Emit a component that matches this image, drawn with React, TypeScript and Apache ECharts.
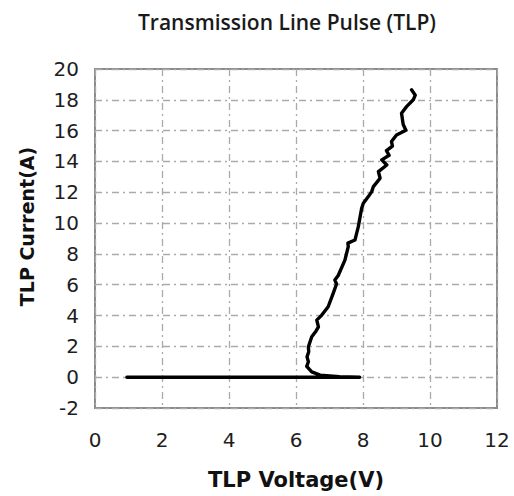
import React, { useEffect, useRef } from "react";
import * as echarts from "echarts";

// TLP I-V curve: [voltage (V), current (A)]
const voltage: number[] = [
  0.95, 7.9, 7.3, 6.72, 6.47, 6.32, 6.37, 6.33, 6.38, 6.37, 6.47, 6.6, 6.67, 6.62, 6.77,
  6.96, 7.11, 7.21, 7.16, 7.26, 7.46, 7.56, 7.55, 7.76, 7.86, 7.96, 8.01, 8.16, 8.26,
  8.31, 8.43, 8.51, 8.46, 8.71, 8.56, 8.78, 8.7, 8.88, 8.85, 9.0, 9.28, 9.2, 9.15, 9.3,
  9.5, 9.56, 9.45,
];
const current: number[] = [
  0, 0, 0.03, 0.13, 0.34, 0.7, 1.0, 1.32, 1.65, 1.97, 2.62, 3.0, 3.27, 3.7, 4.03,
  4.57, 5.44, 6.05, 6.3, 6.6, 7.6, 8.47, 8.7, 8.9, 9.77, 10.96, 11.29, 11.72, 12.04,
  12.37, 12.69, 12.91, 13.34, 13.77, 14.1, 14.4, 14.7, 15.0, 15.29, 15.72, 16.02, 16.4, 17.13, 17.56,
  18.0, 18.3, 18.65,
];

const titleText = "Transmission Line Pulse (TLP)";
const xName = "TLP Voltage(V)";
const yName = "TLP Current(A)";
const xRange = { min: 0, max: 12, interval: 2 };
const yRange = { min: -2, max: 20, interval: 2 };

export default function App() {
  const ref = useRef<HTMLDivElement>(null);
  useEffect(() => {
    if (!ref.current) return;
    const chart = echarts.init(ref.current, null, { renderer: "svg" });
    const gridLine = {
      show: true,
      lineStyle: { color: "#aaaaaa", width: 1.3, type: [7, 4, 2, 4] as any },
    };
    const labelStyle = {
      fontFamily: "DejaVu Sans",
      fontSize: 20,
      color: "#1e1e1e",
    };
    chart.setOption({
      animation: false,
      backgroundColor: "#ffffff",
      title: {
        text: titleText,
        left: 282,
        top: 6,
        textAlign: "center",
        textStyle: {
          fontFamily: "Open Sans",
          fontWeight: 600,
          fontSize: 21,
          color: "#1a1a1a",
        },
      },
      grid: {
        left: 95,
        right: 17,
        top: 69,
        bottom: 88,
        show: true,
        borderColor: "#8c8c8c",
        borderWidth: 2,
        backgroundColor: "transparent",
      },
      xAxis: {
        type: "value",
        min: xRange.min,
        max: xRange.max,
        interval: xRange.interval,
        name: xName,
        nameLocation: "middle",
        nameGap: 61,
        nameTextStyle: {
          fontFamily: "DejaVu Sans",
          fontWeight: "bold",
          fontSize: 21,
          color: "#111111",
        },
        axisLine: { show: false, onZero: false },
        axisTick: { show: false },
        axisLabel: { ...labelStyle, margin: 22 },
        splitLine: gridLine,
      },
      yAxis: {
        type: "value",
        min: yRange.min,
        max: yRange.max,
        interval: yRange.interval,
        name: yName,
        nameLocation: "middle",
        nameGap: 59,
        nameTextStyle: {
          fontFamily: "DejaVu Sans",
          fontWeight: "bold",
          fontSize: 19,
          color: "#111111",
          padding: [0, 0, 0, 24],
        },
        axisLine: { show: false, onZero: false },
        axisTick: { show: false },
        axisLabel: { ...labelStyle, margin: 16 },
        splitLine: gridLine,
      },
      series: [
        {
          type: "line",
          data: voltage.map((v, i) => [v, current[i]]),
          showSymbol: false,
          symbol: "none",
          lineStyle: { color: "#000000", width: 3.4, join: "round", cap: "round" },
          z: 5,
        },
      ],
    });
    return () => chart.dispose();
  }, []);
  return (
    <div
      ref={ref}
      style={{ position: "fixed", left: 0, top: 0, width: 514, height: 496, background: "#fff" }}
    />
  );
}
